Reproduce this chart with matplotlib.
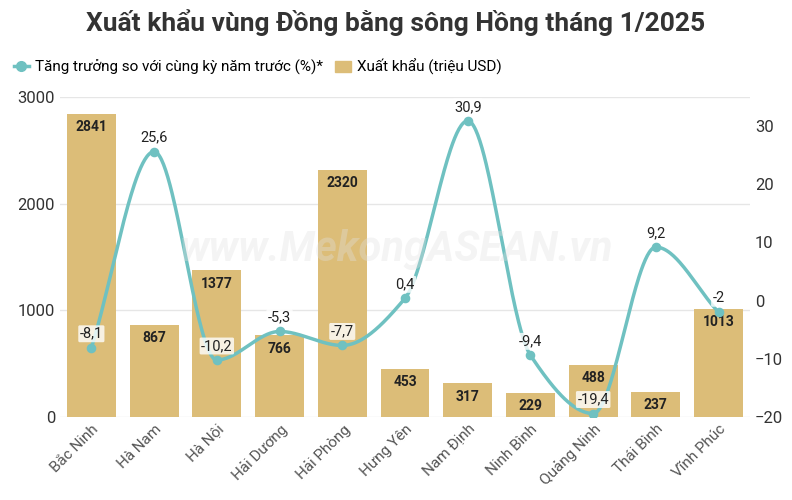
import numpy as np
import matplotlib
matplotlib.use("Agg")
import matplotlib.pyplot as plt

categories = ["Bắc Ninh","Hà Nam","Hà Nội","Hải Dương","Hải Phòng","Hưng Yên","Nam Định","Ninh Bình","Quảng Ninh","Thái Bình","Vĩnh Phúc"]
exports = [2841,867,1377,766,2320,453,317,229,488,237,1013]
growth = [-8.1,25.6,-10.2,-5.3,-7.7,0.4,30.9,-9.4,-19.4,9.2,-2]
growth_labels = ["-8,1","25,6","-10,2","-5,3","-7,7","0,4","30,9","-9,4","-19,4","9,2","-2"]

plt.rcParams['font.family'] = ['Roboto', 'DejaVu Sans']
fig = plt.figure(figsize=(7.92,5.0), dpi=100)
ax = fig.add_axes([60/792, 83/500, 690/792, 320/500])
ax2 = ax.twinx()
x = np.arange(len(categories))
bar_c = "#dcbd78"; line_c = "#6fc1c1"
ax.bar(x, exports, width=0.78, color=bar_c, zorder=2)
ax.set_ylim(0,3000); ax.set_yticks([0,1000,2000,3000])
ax.set_xlim(-0.5, len(x)-0.5)
ax.grid(axis='y', color='#e6e6e6', lw=1, zorder=0)
ax.set_axisbelow(True)
for s in ax.spines.values(): s.set_visible(False)
for s in ax2.spines.values(): s.set_visible(False)
ax.tick_params(length=0, labelsize=12, colors='#333333')
ax.set_xticks(x); ax.set_xticklabels(categories, rotation=45, ha='right', rotation_mode='anchor', fontsize=11, color='#555555')
for xi, v in zip(x, exports):
    ax.text(xi, v-60, str(v), ha='center', va='top', fontsize=10, fontweight='bold', color='#222222', zorder=5)

# monotone cubic (Fritsch-Carlson) for smooth line through points
def monotone(xs, ys, n=600):
    xs = np.asarray(xs, float); ys = np.asarray(ys, float); m = len(xs)
    h = np.diff(xs); d = np.diff(ys)/h
    t = np.zeros(m)
    t[0]=d[0]; t[-1]=d[-1]
    for i in range(1,m-1):
        t[i] = 0 if d[i-1]*d[i] <= 0 else 2/(1/d[i-1]+1/d[i])
    xx = np.linspace(xs[0], xs[-1], n); yy = np.empty_like(xx)
    for k,p in enumerate(xx):
        i = min(int(np.searchsorted(xs, p, side='right')-1), m-2)
        s = (p-xs[i])/h[i]
        h00=2*s**3-3*s**2+1; h10=s**3-2*s**2+s; h01=-2*s**3+3*s**2; h11=s**3-s**2
        yy[k]=h00*ys[i]+h10*h[i]*t[i]+h01*ys[i+1]+h11*h[i]*t[i+1]
    return xx, yy
xx, yy = monotone(x, growth)
ax2.plot(xx, yy, color=line_c, lw=2.5, zorder=3)
ax2.scatter(x, growth, color=line_c, s=35, zorder=4)
ax2.set_ylim(-20,35); ax2.set_yticks([-20,-10,0,10,20,30])
ax2.tick_params(length=0, labelsize=12, colors='#333333')
for xi, v, lab in zip(x, growth, growth_labels):
    ax2.text(xi, v+1.2, lab, ha='center', va='bottom', fontsize=10.5, color='#222222', zorder=6,
             bbox=dict(boxstyle='round,pad=0.1', fc='white', ec='none', alpha=0.8))

fig.text(0.5, 0.5, "www.MekongASEAN.vn", ha='center', va='center', fontsize=30, fontweight='bold',
         style='italic', color='#e0e0e0', alpha=0.35, zorder=10)
fig.text(0.5, 0.955, "Xuất khẩu vùng Đồng bằng sông Hồng tháng 1/2025", ha='center', va='center',
         fontsize=19, fontweight='bold', color='#333333')
from matplotlib.patches import Patch
from matplotlib.lines import Line2D
handles = [Line2D([0],[0], color=line_c, marker='o', lw=2.5, ms=7), Patch(color=bar_c)]
fig.legend(handles, ["Tăng trưởng so với cùng kỳ năm trước (%)*", "Xuất khẩu (triệu USD)"],
           loc='center left', bbox_to_anchor=(0.0, 0.866), ncol=2, frameon=False, fontsize=11,
           handlelength=1.0, handletextpad=0.4, columnspacing=0.8)
fig.savefig("out.png", dpi=100)
